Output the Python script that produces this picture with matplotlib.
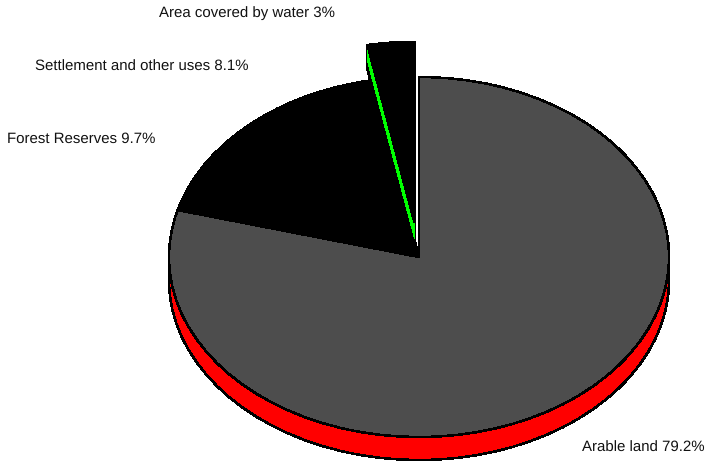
import matplotlib
matplotlib.use('Agg')
import matplotlib.pyplot as plt
import numpy as np
from matplotlib.patches import Wedge

plt.rcParams['font.family'] = ['Liberation Sans', 'DejaVu Sans']
plt.rcParams['text.hinting'] = 'no_hinting'
plt.rcParams['text.hinting_factor'] = 1

names = ['Arable land', 'Forest Reserves', 'Settlement and other uses', 'Area covered by water']
shares = [79.2, 9.7, 8.1, 3]
share_text = ['79.2%', '9.7%', '8.1%', '3%']
top_colors = ['#4d4d4d', '#000000', '#000000', '#000000']
side_colors = ['#ff0000', '#000000', '#000000', '#00ff00']
pulled_out = [0, 0, 0, 0.194]

# where each label starts, in pixels of the 706x463 image
label_x = [582, 7, 35, 159]
label_y = [448, 139, 67, 13]

W, H = 706, 463
CX, CY = 419, 257   # pie centre in pixels
RX, RY = 250, 180   # flattened radii in pixels
DEPTH = 23 / RY

fig = plt.figure(figsize=(W / 100, H / 100), dpi=100)
ax = fig.add_axes([0, 0, 1, 1])

edge = dict(edgecolor='black', linewidth=1.1, antialiased=False)

# side walls first, then the top faces shifted up by the depth
side, _ = ax.pie(shares, colors=side_colors, explode=pulled_out, startangle=90,
                 counterclock=False, center=(0, -DEPTH), wedgeprops=edge)
top, _ = ax.pie(shares, colors=top_colors, explode=pulled_out, startangle=90,
                counterclock=False, wedgeprops=edge)

# the pulled out slice sits over the rest of the pie, its wall is a stack of copies
water = top[3]
side[3].set_visible(False)
water.set_zorder(8)
cx, cy = water.center
for d in np.linspace(DEPTH, 0, 12):
    ax.add_patch(Wedge((cx, cy - d), water.r, water.theta1, water.theta2,
                       facecolor='black', edgecolor='black', linewidth=1.6,
                       antialiased=False, zorder=5))
for d in np.linspace(DEPTH * 0.7, 0, 12):
    ax.add_patch(Wedge((cx, cy - d), water.r, water.theta1, water.theta2,
                       facecolor='#00ff00', edgecolor='none',
                       antialiased=False, zorder=6))

# flatten the pie, not a circle any more
ax.set_aspect('auto')
ax.set_xlim(-CX / RX, (W - CX) / RX)
ax.set_ylim(-(H - CY) / RY, CY / RY)
ax.axis('off')

for name, pct, x, y in zip(names, share_text, label_x, label_y):
    fig.text(x / W, 1 - y / H, f'{name} {pct}', fontsize=10.8, color='#111111',
             ha='left', va='center')

fig.savefig('out.png', dpi=100, facecolor='white')
